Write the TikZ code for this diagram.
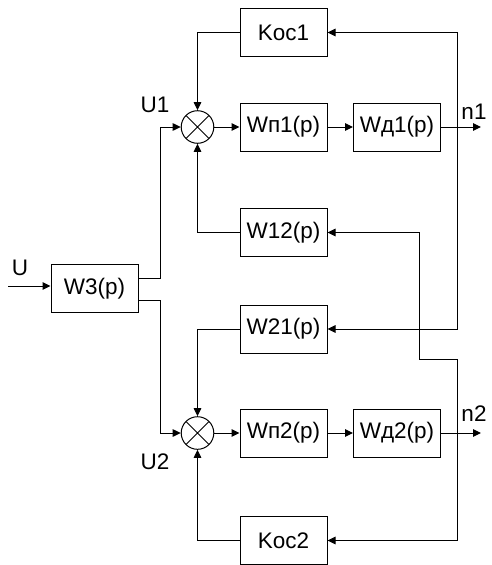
\documentclass[tikz,border=0pt]{standalone}
\usepackage{fontspec}
\setmainfont{Liberation Sans}
\usetikzlibrary{arrows.meta}
\begin{document}
\begin{tikzpicture}[x=1pt,y=-1pt,
  font=\fontsize{22.5}{27}\selectfont,
  line width=1pt,
  >={Triangle[length=8pt,width=7.5pt]},
  blk/.style={draw, minimum width=87pt, minimum height=48pt, inner sep=0pt},
  sumnode/.style={draw, circle, minimum size=32.6pt, inner sep=0pt,
    path picture={\draw (path picture bounding box.north west) -- (path picture bounding box.south east)
                        (path picture bounding box.north east) -- (path picture bounding box.south west);}},
  lbl/.style={anchor=base, inner sep=0pt}]
\useasboundingbox (0,0) rectangle (492,565);

% blocks
\node[blk] (koc1) at (283.5,32.5) {Kос1};
\node[blk] (wp1) at (283.5,127) {Wп1(p)};
\node[blk] (wd1) at (397,127) {Wд1(p)};
\node[blk] (w12) at (283.5,232.5) {W12(p)};
\node[blk] (w3) at (94.5,288.5) {W3(p)};
\node[blk] (w21) at (283.5,329) {W21(p)};
\node[blk] (wp2) at (283.5,433) {Wп2(p)};
\node[blk] (wd2) at (397,433) {Wд2(p)};
\node[blk] (koc2) at (283.5,540.5) {Kос2};

% summing junctions
\node[sumnode] (s1) at (197.5,127) {};
\node[sumnode] (s2) at (197.5,433) {};

% free ends and branch points
\coordinate (in) at (8,286);
\coordinate (out1) at (481,127);
\coordinate (out2) at (481,433);
\coordinate (tap1) at (457,127);
\coordinate (tap2) at (457,433);
\coordinate (bend) at (419,359);

% forward paths
\draw[->] (in) -- (in -| w3.west);
\draw[->] ([yshift=10.5pt]w3.east) -- ++(22,0) |- (s1.west);
\draw[->] ([yshift=-11.5pt]w3.east) -- ++(22,0) |- (s2.west);
\draw[->] (s1) -- (wp1);
\draw[->] (wp1) -- (wd1);
\draw[->] (wd1.east) -- (out1);
\draw[->] (s2) -- (wp2);
\draw[->] (wp2) -- (wd2);
\draw[->] (wd2.east) -- (out2);

% feedback and cross links
\draw[->] (tap1) |- (koc1.east);
\draw[->] (tap1) |- (w21.east);
\draw[->] (tap2) |- (koc2.east);
\draw[->] (tap2) |- (bend) |- (w12.east);
\draw[->] (koc1.west) -| (s1.north);
\draw[->] (w12.west) -| (s1.south);
\draw[->] (w21.west) -| (s2.north);
\draw[->] (koc2.west) -| (s2.south);

% signal labels
\node[lbl] (lu) at (20,275) {U};
\node[lbl] (lu1) at (155,112) {U1};
\node[lbl] (lu2) at (155,469) {U2};
\node[lbl] (ln1) at (474,119) {n1};
\node[lbl] (ln2) at (474,421) {n2};
\end{tikzpicture}
\end{document}
